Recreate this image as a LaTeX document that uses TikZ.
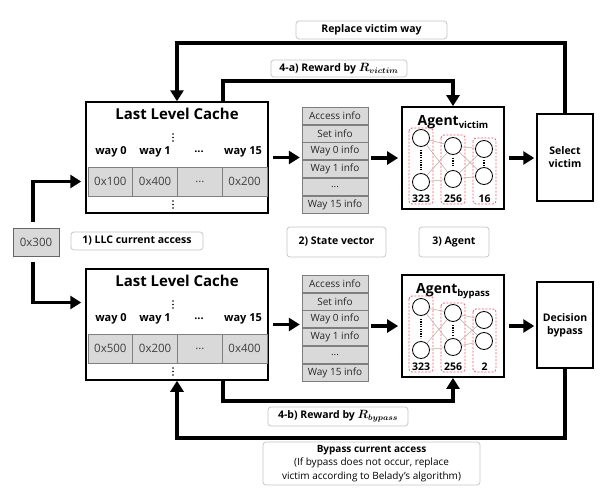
\documentclass[tikz,border=0pt]{standalone}
\usepackage{amsmath}
\usepackage{bm}
\usepackage{fontspec}
\setmainfont{Open Sans}
\usetikzlibrary{arrows.meta,calc}
\definecolor{cellfill}{HTML}{D9D9D9}
\definecolor{cellline}{HTML}{7F7F7F}
\definecolor{lblline}{HTML}{C4C4C4}
\definecolor{netred}{HTML}{F0606E}
\definecolor{netline}{HTML}{C4A0A0}
\newcommand{\rwd}[1]{{\fontsize{12}{12}\selectfont$\bm{R_{#1}}$}}
\tikzset{
  arr/.style={line width=3.5pt, -{Triangle[length=11pt,width=13pt]}},
  frame/.style={draw, line width=1.5pt, inner sep=0pt},
  svrow/.style={draw=cellline, fill=cellfill, line width=0.8pt, minimum height=17pt, minimum width=66pt, inner sep=0pt, font=\fontsize{10}{11}\selectfont, text=black!85},
  llccell/.style={draw=cellline, fill=cellfill, line width=0.8pt, minimum height=29pt, minimum width=44.75pt, inner sep=0pt, font=\fontsize{11.5}{12}\selectfont, text=black!75},
  waylab/.style={inner sep=0pt, font=\bfseries\fontsize{11}{13}\selectfont},
  lbl/.style={draw=lblline, rounded corners=3pt, line width=0.7pt, inner sep=0pt, font=\bfseries\fontsize{10.5}{12}\selectfont},
  neuron/.style={circle, draw, line width=0.8pt, minimum size=17pt, inner sep=0pt},
  redbox/.style={draw=netred, dash pattern=on 2pt off 1.5pt, rounded corners=3pt, line width=0.8pt},
  conn/.style={draw=netline, line width=0.5pt},
  vdots/.style={line width=1.6pt, dash pattern=on 1.2pt off 1.2pt},
  numlab/.style={inner sep=0pt, font=\bfseries\fontsize{10.5}{12}\selectfont},
  agtitle/.style={inner sep=0pt, font=\bfseries\fontsize{14}{16}\selectfont, anchor=base},
}
\newcommand{\llcblock}[6]{%
  \node[frame, minimum width=182pt, minimum height=111pt] (#1) at (177,157.5+#2) {};
  \node[inner sep=0pt, font=\bfseries\fontsize{15}{18}\selectfont] (#1t) at (177,114+#2) {Last Level Cache};
  \foreach \yy in {134,137.5,141,201,204.5,208} \fill (173,\yy+#2) circle (0.9pt);
  \node[waylab] (#1w0) at (111,152+#2) {way 0};
  \node[waylab] (#1w1) at (155,152+#2) {way 1};
  \node[waylab] (#1w2) at (199,152+#2) {...};
  \node[waylab] (#1w3) at (243,152+#2) {way 15};
  \node[llccell] (#1c0) at (110.4,181.5+#2) {#3};
  \node[llccell] (#1c1) at (155.1,181.5+#2) {#4};
  \node[llccell] (#1c2) at (199.9,181.5+#2) {...};
  \node[llccell] (#1c3) at (244.6,181.5+#2) {#6};
}
\newcommand{\svblock}[2]{%
  \node[minimum width=66pt, minimum height=102pt, inner sep=0pt] (#1) at (335,#2) {};
  \node[svrow, anchor=north] (#1r1) at (#1.north) {Access info};
  \node[svrow, anchor=north] (#1r2) at (#1r1.south) {Set info};
  \node[svrow, anchor=north] (#1r3) at (#1r2.south) {Way 0 info};
  \node[svrow, anchor=north] (#1r4) at (#1r3.south) {Way 1 info};
  \node[svrow, anchor=north] (#1r5) at (#1r4.south) {...};
  \node[svrow, anchor=north] (#1r6) at (#1r5.south) {Way 15 info};
}
\begin{document}
\begin{tikzpicture}[x=1pt,y=-1pt]
\useasboundingbox (0,0) rectangle (606,498);
\fill[white] (0,0) rectangle (606,498);

% cache blocks
\llcblock{llcA}{0}{0x100}{0x400}{...}{0x200}
\llcblock{llcB}{167}{0x500}{0x200}{...}{0x400}

% state vectors
\svblock{svA}{158}
\svblock{svB}{326}

% current access
\node[draw=cellline!80!black, fill=cellfill, line width=0.8pt, minimum width=46pt, minimum height=28pt, inner sep=0pt, font=\fontsize{11.5}{12}\selectfont, text=black!75] (x300) at (36,242) {0x300};

% agents
\node[draw, line width=1.8pt, minimum width=102pt, minimum height=102pt, inner sep=0pt] (agA) at (453,158) {};
\node[draw, line width=1.8pt, minimum width=102pt, minimum height=102pt, inner sep=0pt] (agB) at (453,326) {};
\node[agtitle] (agAt) at (453,125) {Agent\raisebox{-3pt}{\fontsize{9.5}{11}\selectfont victim}};
\node[agtitle] (agBt) at (453,293) {Agent\raisebox{-3pt}{\fontsize{9.5}{11}\selectfont bypass}};

% victim network
\draw[redbox] (409,128) rectangle (433,204);
\draw[redbox] (441,135) rectangle (465,204);
\draw[redbox] (473,138) rectangle (496,204);
\node[neuron] (vA11) at (421,138) {};
\node[neuron] (vA12) at (421,182) {};
\node[neuron] (vA21) at (453,146) {};
\node[neuron] (vA22) at (453,179) {};
\node[neuron] (vA31) at (484,149) {};
\node[neuron] (vA32) at (484,176) {};
\foreach \a in {vA11,vA12} \foreach \b in {vA21,vA22} \draw[conn] (\a) -- (\b);
\foreach \a in {vA21,vA22} \foreach \b in {vA31,vA32} \draw[conn] (\a) -- (\b);
\draw[vdots, shorten <=3pt, shorten >=3pt] (vA11) -- (vA12);
\draw[vdots, shorten <=3pt, shorten >=3pt] (vA21) -- (vA22);
\draw[vdots, shorten <=2pt, shorten >=2pt] (vA31) -- (vA32);
\node[numlab] (vAn1) at (421,199) {323};
\node[numlab] (vAn2) at (453,199) {256};
\node[numlab] (vAn3) at (484.5,199) {16};

% bypass network
\draw[redbox] (409,296) rectangle (433,372);
\draw[redbox] (441,303) rectangle (465,372);
\draw[redbox] (473,309) rectangle (496,372);
\node[neuron] (bB11) at (421,307) {};
\node[neuron] (bB12) at (421,350) {};
\node[neuron] (bB21) at (453,313) {};
\node[neuron] (bB22) at (453,347) {};
\node[neuron] (bB31) at (484,320) {};
\node[neuron] (bB32) at (484,341) {};
\foreach \a in {bB11,bB12} \foreach \b in {bB21,bB22} \draw[conn] (\a) -- (\b);
\foreach \a in {bB21,bB22} \foreach \b in {bB31,bB32} \draw[conn] (\a) -- (\b);
\draw[vdots, shorten <=3pt, shorten >=3pt] (bB11) -- (bB12);
\draw[vdots, shorten <=3pt, shorten >=3pt] (bB21) -- (bB22);
\node[numlab] (bBn1) at (421,367) {323};
\node[numlab] (bBn2) at (453,367) {256};
\node[numlab] (bBn3) at (484.5,367) {2};

% decision boxes
\node[frame, minimum width=56pt, minimum height=87pt, align=center, font=\bfseries\fontsize{10.5}{13}\selectfont] (selA) at (565,157.5) {Select\\victim};
\node[frame, minimum width=56pt, minimum height=86pt, align=center, font=\bfseries\fontsize{10.5}{13}\selectfont] (decB) at (565,325) {Decision\\bypass};

% labels
\node[lbl, minimum width=132pt, minimum height=18pt] (l1) at (137,241) {1) LLC current access};
\node[lbl, minimum width=99pt, minimum height=30pt] (l2) at (336.5,242) {2) State vector};
\node[lbl, minimum width=70pt, minimum height=30pt] (l3) at (454,242) {3) Agent};
\node[lbl, minimum width=151pt, minimum height=18pt] (lrv) at (371.5,30) {Replace victim way};
\node[lbl, minimum width=136pt, minimum height=17pt] (lra) at (339,68.5) {4-a) Reward by \rwd{victim}};
\node[lbl, minimum width=140pt, minimum height=19pt] (lrb) at (338,416.5) {4-b) Reward by \rwd{bypass}};
\node[lbl, minimum width=217pt, minimum height=43pt, align=center, font=\fontsize{10}{13.5}\selectfont] (lbp) at (371.5,463.5) {\textbf{Bypass current access}\\(If bypass does not occur, replace\\victim according to Belady's algorithm)};

% coordinates for connector levels
\coordinate (rvy) at (0,43);
\coordinate (ray) at (0,81);
\coordinate (rby) at (0,401);
\coordinate (bpy) at (0,438);

% connectors
\draw[arr, shorten <=6pt, shorten >=4pt] ([xshift=-3pt]x300.north) |- (llcA.west |- llcAc0.center);
\draw[arr, shorten <=6pt, shorten >=4pt] ([xshift=-3pt]x300.south) |- ($(llcB.west)+(0,-22)$);
\draw[arr, shorten <=4pt, shorten >=2pt] (llcA.east) -- (svA.west |- llcA.east);
\draw[arr, shorten <=4pt, shorten >=2pt] (llcB.east) -- (svB.west |- llcB.east);
\draw[arr, shorten <=3pt, shorten >=3pt] (svA.east) -- (agA.west |- svA.east);
\draw[arr, shorten <=3pt, shorten >=3pt] (svB.east) -- (agB.west |- svB.east);
\draw[arr, shorten <=4pt, shorten >=2pt] (agA.east) -- (selA.west |- agA.east);
\draw[arr, shorten <=4pt, shorten >=2pt] (agB.east) -- (decB.west |- agB.east);
\draw[arr] (selA.north) -- (selA.north |- rvy) -| (llcA.north);
\draw[arr] ([xshift=46pt]llcA.north) |- (agA.north |- ray) -- (agA.north);
\draw[arr] ([xshift=46pt]llcB.south) |- (agB.south |- rby) -- (agB.south);
\draw[arr] (decB.south) -- (decB.south |- bpy) -| (llcB.south);
\end{tikzpicture}
\end{document}
